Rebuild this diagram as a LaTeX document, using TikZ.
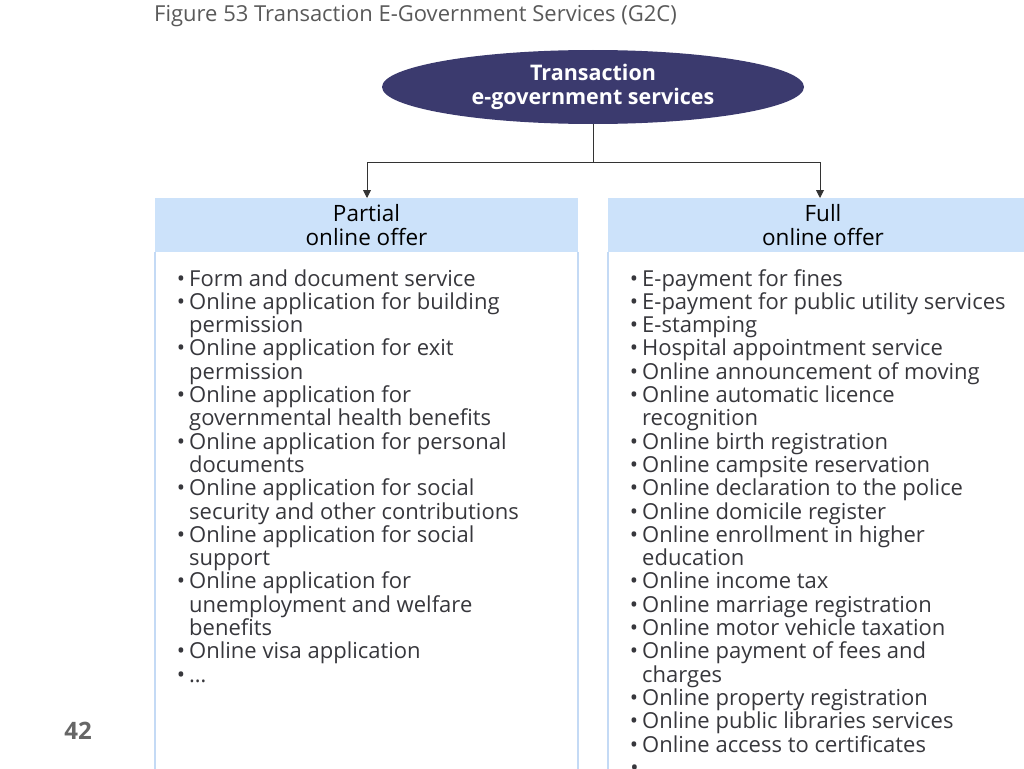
\documentclass[tikz,border=0pt]{standalone}
\usepackage{fontspec}
\setmainfont{Open Sans}
\usetikzlibrary{arrows.meta,shapes.geometric}
\definecolor{hdr}{RGB}{204,226,250}
\definecolor{bord}{RGB}{196,218,245}
\definecolor{ell}{RGB}{59,58,110}
\definecolor{txt}{RGB}{55,55,60}
\newcommand{\B}{\llap{\textbullet\hspace{4pt}}}
\tikzset{
 li/.style={anchor=base west,inner sep=0,text=txt,font=\fontsize{22}{24}\selectfont},
 hd/.style={font=\fontsize{22.5}{24}\selectfont,align=center,text=black},
 conn/.style={draw=black!80,line width=0.9pt,-{Triangle[length=8pt,width=8pt]}}
}
\begin{document}
\begin{tikzpicture}[x=1pt,y=-1pt]
\useasboundingbox (0,0) rectangle (1024,768);
\node[anchor=base west,inner sep=0,text=black!65,font=\fontsize{22}{24}\selectfont] (title) at (154,22) {Figure 53 Transaction E-Government Services (G2C)};
\node[ellipse,fill=ell,minimum width=422pt,minimum height=74pt,inner sep=0,text=white,font=\bfseries\fontsize{21.5}{24}\selectfont,align=center] (root) at (593,87) {Transaction\\e-government services};
% boxes
\draw[bord,line width=1.5pt] (155,252) -- (155,775) (578,252) -- (578,775) (608,252) -- (608,775);
\node[fill=hdr,minimum width=423pt,minimum height=54pt,inner sep=0,hd] (p) at (366.5,225) {Partial\\online offer};
\node[fill=hdr,minimum width=430pt,minimum height=54pt,inner sep=0,hd] (f) at (823,225) {Full\\online offer};
\coordinate (m) at (593,162);
\coordinate (pl) at (367,162);
\coordinate (fr) at (820,162);
\draw[draw=black!80,line width=0.9pt] (root.south) -- (m);
\draw[conn] (m) -- (pl) -- (367,198);
\draw[conn] (m) -- (fr) -- (820,198);
\foreach \t [count=\i] in {\B Form and document service,\B Online application for building,permission,\B Online application for exit,permission,\B Online application for,governmental health benefits,\B Online application for personal,documents,\B Online application for social,security and other contributions,\B Online application for social,support,\B Online application for,unemployment and welfare,benefits,\B Online visa application,\B \dots}
 \node[li] (l\i) at (189,{286+23.3*(\i-1)}) {\t};
\foreach \t [count=\i] in {\B E-payment for fines,\B E-payment for public utility services,\B E-stamping,\B Hospital appointment service,\B Online announcement of moving,\B Online automatic licence,recognition,\B Online birth registration,\B Online campsite reservation,\B Online declaration to the police,\B Online domicile register,\B Online enrollment in higher,education,\B Online income tax,\B Online marriage registration,\B Online motor vehicle taxation,\B Online payment of fees and,charges,\B Online property registration,\B Online public libraries services,\B Online access to certificates,\B}
 \node[li] (r\i) at (642,{286+23.3*(\i-1)}) {\t};
\node[text=black!60,font=\bfseries\fontsize{24}{26}\selectfont] (num) at (78,731) {42};
\end{tikzpicture}
\end{document}
